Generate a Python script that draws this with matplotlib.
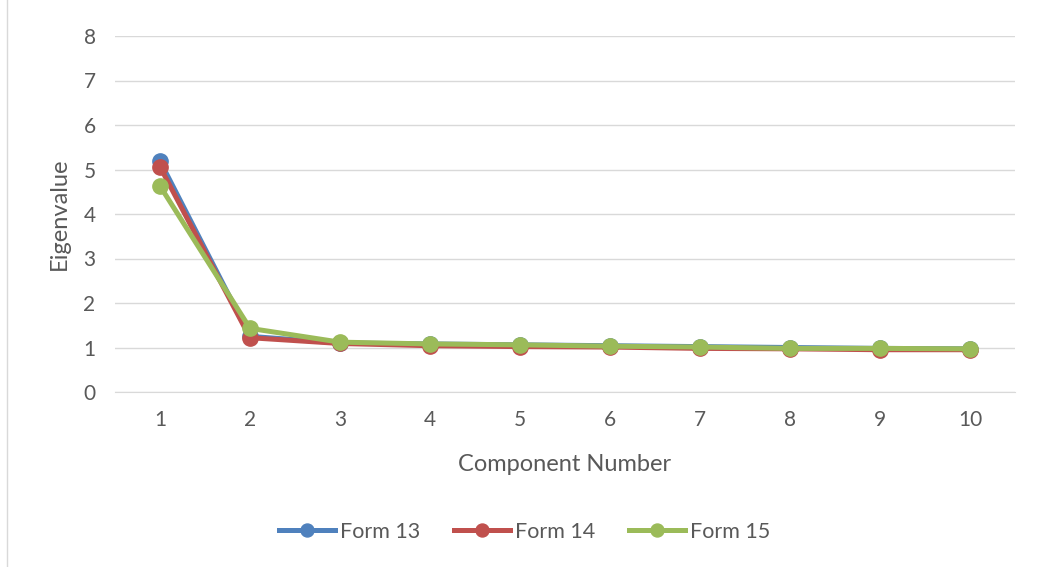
import matplotlib.pyplot as plt

components = [1, 2, 3, 4, 5, 6, 7, 8, 9, 10]
form13 = [5.19, 1.25, 1.10, 1.08, 1.06, 1.04, 1.02, 1.00, 0.98, 0.97]
form14 = [5.06, 1.22, 1.09, 1.04, 1.02, 1.01, 0.98, 0.97, 0.95, 0.95]
form15 = [4.63, 1.43, 1.12, 1.08, 1.06, 1.03, 1.01, 0.98, 0.98, 0.97]

plt.rcParams['font.family'] = ['Lato', 'DejaVu Sans']
txt = '#595959'

fig = plt.figure(figsize=(10.39, 5.67), dpi=100)
ax = fig.add_axes([115 / 1039, 1 - 392 / 567, 900 / 1039, 356 / 567])

ax.plot(components, form13, color='#4f81bd', lw=3.6, marker='o', ms=11, label='Form 13')
ax.plot(components, form14, color='#c0504d', lw=3.6, marker='o', ms=11, label='Form 14')
ax.plot(components, form15, color='#9bbb59', lw=3.6, marker='o', ms=11, label='Form 15')

ax.set_xlim(0.5, 10.5)
ax.set_ylim(0, 8)
ax.set_xticks(components)
ax.set_yticks(range(0, 9))
ax.grid(axis='y', color='#d9d9d9', lw=1)
ax.set_axisbelow(True)
for s in ['top', 'right', 'left']:
    ax.spines[s].set_visible(False)
ax.spines['bottom'].set_color('#d9d9d9')
ax.tick_params(axis='x', length=0, labelsize=15, labelcolor=txt, pad=13)
ax.tick_params(axis='y', length=0, labelsize=15, labelcolor=txt, pad=14)
ax.set_xlabel('Component Number', fontsize=17, color=txt, labelpad=17)
ax.set_ylabel('Eigenvalue', fontsize=17, color=txt, labelpad=10)

fig.legend(loc='center', bbox_to_anchor=(0.505, 1 - 532 / 567), ncol=3, frameon=False,
           fontsize=15.5, labelcolor=txt, handlelength=2.6, handletextpad=0.2,
           columnspacing=1.6, markerscale=0.85)

fig.patches.append(plt.Rectangle((0.007, -0.01), 1.0, 1.02, transform=fig.transFigure,
                                 fill=False, edgecolor='#d9d9d9', lw=1))

fig.savefig('out.png', dpi=100)
